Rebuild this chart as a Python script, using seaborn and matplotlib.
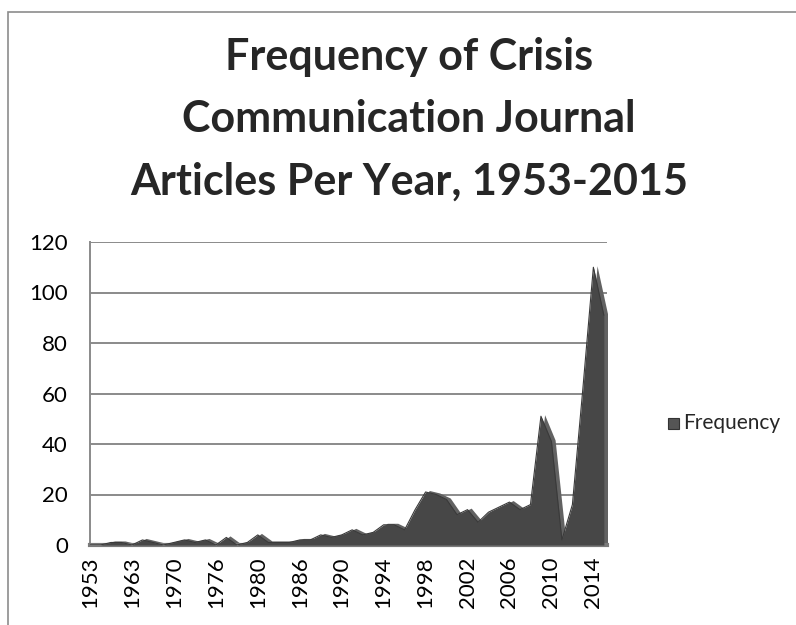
import numpy as np
import pandas as pd
import seaborn as sns
import matplotlib.pyplot as plt
from matplotlib.patches import Rectangle

## Data
years = ["1953", "1957", "1960", "1962", "1963", "1965", "1967", "1968",
         "1970", "1972", "1973", "1974", "1976", "1977", "1978", "1979",
         "1980", "1982", "1983", "1984", "1986", "1987", "1988", "1989"] + \
        [str(y) for y in range(1990, 2016)]
frequency = [0, 0, 1, 1, 0, 2, 1, 0,
             1, 2, 1, 2, 0, 3, 0, 1,
             4, 1, 1, 1, 2, 2, 4, 3,
             4, 6, 4, 5, 8, 8, 6, 14, 21, 20, 18, 12, 14, 9, 13, 15,
             17, 14, 16, 51, 41, 2, 16, 62, 110, 91]
y_ticks = [0, 20, 40, 60, 80, 100, 120]

df = pd.DataFrame({"Year": years, "Frequency": frequency})
df["pos"] = np.arange(len(df))

sns.set_style("white")
plt.rcParams['font.family'] = ['Lato', 'DejaVu Sans']

fig = plt.figure(figsize=(7.96, 6.25), dpi=100)
# outer chart border
fig.patches.append(Rectangle((8 / 796, -0.1), 1.0, 1 - 12 / 625 + 0.1,
                             transform=fig.transFigure, fill=False,
                             edgecolor='#8c8c8c', linewidth=1.2))

ax = fig.add_axes([90 / 796, 1 - 545 / 625, (607 - 90) / 796, (545 - 242) / 625])

# 3D-ish look: a slightly lighter back layer, then the dark front face
ax.fill_between(df["pos"] + 0.35, df["Frequency"] + 0.6, 0, color='#626262', lw=0, zorder=2)
ax.fill_between(df["pos"], df["Frequency"], 0, color='#474747', lw=0, zorder=3)
sns.lineplot(data=df, x="pos", y="Frequency", ax=ax, color='#3a3a3a', lw=0.8, zorder=4)

ax.set_xlim(0, len(df) - 1 + 0.3)
ax.set_ylim(0, 120)
ax.set_yticks(y_ticks)
ax.yaxis.grid(True, color='#8a8a8a', lw=1.4, zorder=1)
ax.set_xticks(df["pos"][::4])
ax.set_xticklabels(df["Year"][::4], rotation=90)
ax.tick_params(axis='both', labelsize=16, length=0, colors='black')
ax.tick_params(axis='x', pad=8)
ax.tick_params(axis='y', pad=16)
ax.set_xlabel("")
ax.set_ylabel("")
for s in ['top', 'right']:
    ax.spines[s].set_visible(False)
ax.spines['left'].set_color('#8a8a8a')
ax.spines['left'].set_linewidth(1.4)
ax.spines['bottom'].set_color('#7a7a7a')
ax.spines['bottom'].set_linewidth(3)

fig.text(409 / 796, 1 - 119 / 625,
         "Frequency of Crisis\nCommunication Journal\nArticles Per Year, 1953-2015",
         ha='center', va='center', fontsize=31, fontweight='bold', linespacing=1.68)

# legend
fig.patches.append(Rectangle((668 / 796, 1 - 429 / 625), 11 / 796, 11 / 625,
                             transform=fig.transFigure, facecolor='#555555',
                             edgecolor='#333333', lw=0.8))
fig.text(683 / 796, 1 - 423 / 625, "Frequency", ha='left', va='center', fontsize=15)

fig.savefig("out.png", dpi=100)
